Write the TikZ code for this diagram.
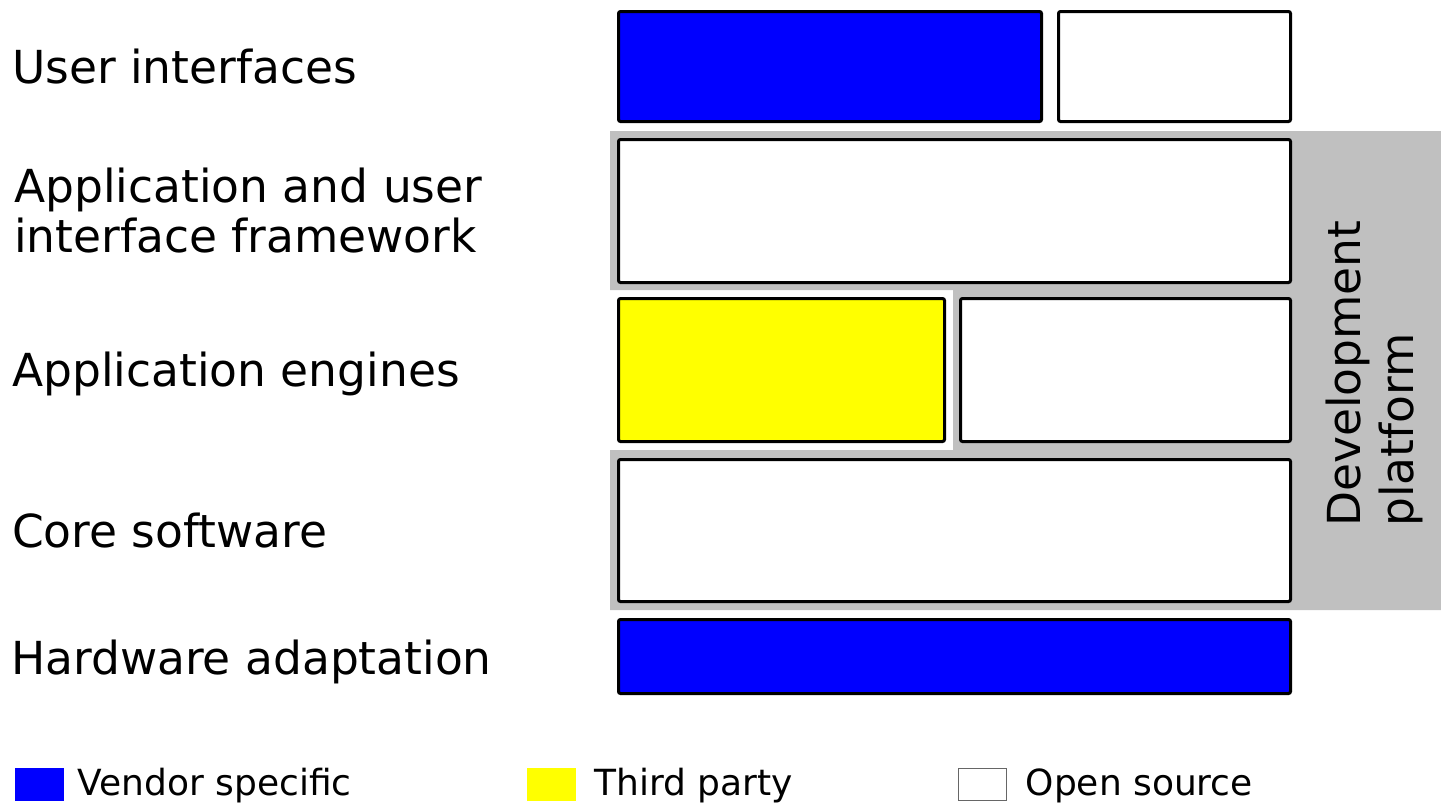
\documentclass[tikz,border=0pt]{standalone}
\usepackage{fontspec}
\setmainfont{DejaVu Sans}
\definecolor{vendorblue}{RGB}{0,0,255}
\definecolor{thirdyellow}{RGB}{255,255,0}
\definecolor{platgrey}{RGB}{192,192,192}
\begin{document}
\begin{tikzpicture}[x=1pt,y=-1pt,
  layer/.style={draw=black, line width=3pt, rounded corners=2pt, inner sep=0pt, outer sep=0pt},
  vendor/.style={layer, fill=vendorblue},
  third/.style={layer, fill=thirdyellow},
  opensrc/.style={layer, fill=white},
  lbl/.style={inner sep=0pt, font=\fontsize{45.5}{50}\selectfont, anchor=base west},
  keybox/.style={inner sep=0pt, minimum width=49pt, minimum height=33pt},
  keytext/.style={inner sep=0pt, font=\fontsize{36}{40}\selectfont, anchor=base west}]
\useasboundingbox (0,0) rectangle (1441,807);

% development platform background with the notch beside the engine layer
\fill[platgrey] (610,131) -- (1441,131) -- (1441,610) -- (610,610) -- (610,450)
  -- (953,450) -- (953,290) -- (610,290) -- cycle;

% layer boxes
\node[vendor,  minimum width=423pt, minimum height=110pt] (uiv)  at (830,66.5) {};
\node[opensrc, minimum width=232pt, minimum height=110pt] (uio)  at (1174.5,66.5) {};
\node[opensrc, minimum width=672pt, minimum height=143pt] (fw)   at (954.5,211) {};
\node[third,   minimum width=326pt, minimum height=143pt] (engt) at (781.5,370) {};
\node[opensrc, minimum width=330pt, minimum height=143pt] (engo) at (1125.5,370) {};
\node[opensrc, minimum width=672pt, minimum height=142pt] (core) at (954.5,530.5) {};
\node[vendor,  minimum width=672pt, minimum height=74pt]  (hw)   at (954.5,656.5) {};

% layer names
\node[lbl] (tui) at (12,83) {User interfaces};
\node[inner sep=0pt, font=\fontsize{45.5}{50}\selectfont, anchor=north west, align=left]
  (tfw) at (14,167.4) {Application and user\\interface framework};
\node[lbl] (teng) at (12,386.5) {Application engines};
\node[lbl] (tcore) at (12,547) {Core software};
\node[lbl] (thw) at (11,674) {Hardware adaptation};

% platform caption
\node[rotate=90, inner sep=0pt, anchor=north west, align=left,
  font=\fontsize{45.5}{53}\selectfont] (tplat) at (1326,527) {Development\\platform};

% legend
\node[keybox, fill=vendorblue]  (kv) at (39.5,784.5) {};
\node[keybox, fill=thirdyellow] (kt) at (551.5,784.5) {};
\node[keybox, fill=white, draw=black!60, line width=1pt, minimum width=48pt, minimum height=32pt] (ko) at (982.5,784.5) {};
\node[keytext] (lv) at (77.5,795.7) {Vendor specific};
\node[keytext] (lt) at (594,795.7) {Third party};
\node[keytext] (lo) at (1025.5,795.7) {Open source};
\end{tikzpicture}
\end{document}
